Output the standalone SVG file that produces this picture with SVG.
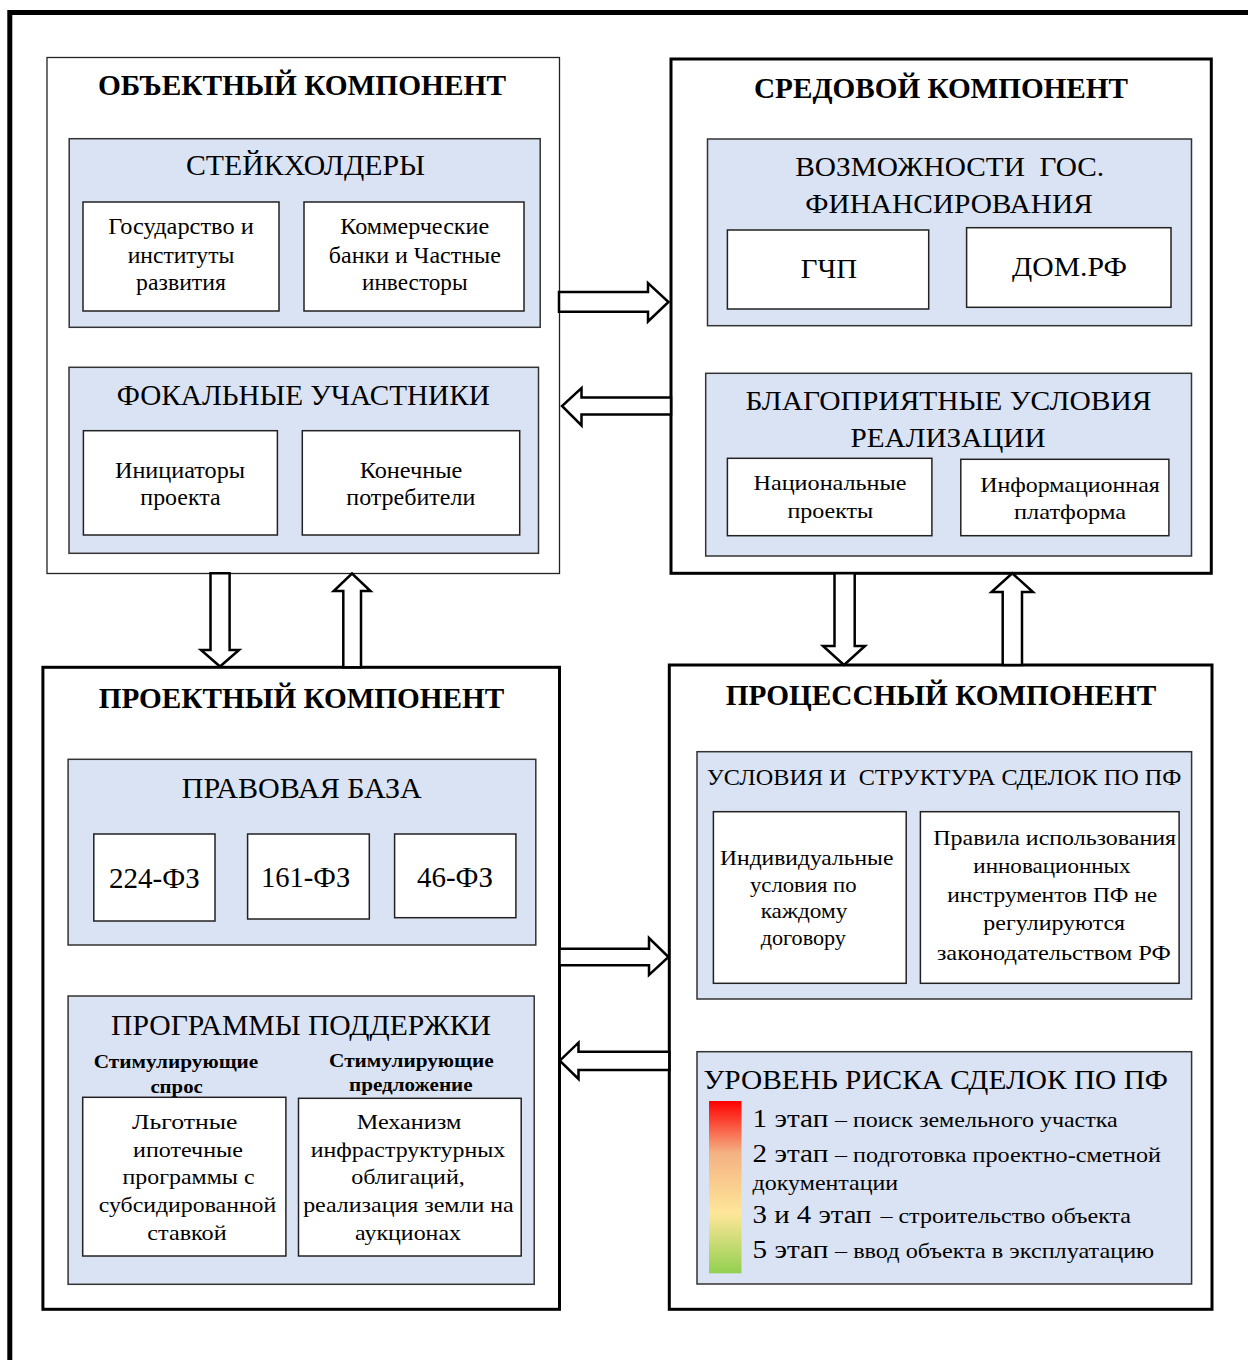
<svg xmlns="http://www.w3.org/2000/svg" width="1248" height="1360" viewBox="0 0 1248 1360">
<defs>
<style>
text{font-family:"Liberation Serif","Times New Roman",serif;fill:#000}
.frame{fill:none;stroke:#000;stroke-width:5}
.comp{fill:#fff;stroke:#000;stroke-width:3}
.compthin{fill:#fff;stroke:#222;stroke-width:1.3}
.grp{fill:#DAE3F3;stroke:#333;stroke-width:1.5}
.item{fill:#fff;stroke:#222;stroke-width:1.5}
.arrow{fill:#fff;stroke:#000;stroke-width:2.5;stroke-linejoin:miter}
.h1{font-size:30px;font-weight:bold;text-anchor:middle}
.h2{font-size:29px;text-anchor:middle}
.h2s{font-size:27.5px;text-anchor:middle}
.h3{font-size:23px;text-anchor:middle}
.b{font-size:22px;text-anchor:middle}
.bl{font-size:23.5px;text-anchor:middle}
.sb{font-size:18px;font-weight:bold;text-anchor:middle}
.rk{font-size:26px}
.rs{font-size:21px}
</style>
<linearGradient id="risk" x1="0" y1="0" x2="0" y2="1">
<stop offset="0" stop-color="#FF0000"/>
<stop offset="0.3" stop-color="#F4B183"/>
<stop offset="0.65" stop-color="#FFE699"/>
<stop offset="1" stop-color="#92D050"/>
</linearGradient>
</defs>
<rect width="1248" height="1360" fill="#fff"/>
<rect class="frame" x="9.8" y="12.5" width="1300" height="1400"/>

<g id="obj">
<rect class="compthin" x="47" y="57.5" width="512.5" height="516"/>
<text class="h1" x="302" y="95" textLength="408" lengthAdjust="spacingAndGlyphs">ОБЪЕКТНЫЙ КОМПОНЕНТ</text>
<g id="stakeholders">
<rect class="grp" x="69.2" y="138.7" width="471" height="188.6"/>
<text class="h2" x="305.5" y="175" textLength="239" lengthAdjust="spacingAndGlyphs">СТЕЙКХОЛДЕРЫ</text>
</g>
<g id="state">
<rect class="item" x="83" y="202" width="196" height="109"/>
<text class="bl" x="181" y="234.3" textLength="145.5" lengthAdjust="spacingAndGlyphs">Государство и</text>
<text class="bl" x="181" y="263" textLength="106.7" lengthAdjust="spacingAndGlyphs">институты</text>
<text class="bl" x="181" y="290" textLength="89.8" lengthAdjust="spacingAndGlyphs">развития</text>
</g>
<g id="banks">
<rect class="item" x="304" y="202" width="220" height="109"/>
<text class="bl" x="414.8" y="234" textLength="149" lengthAdjust="spacingAndGlyphs">Коммерческие</text>
<text class="bl" x="414.8" y="263" textLength="172" lengthAdjust="spacingAndGlyphs">банки и Частные</text>
<text class="bl" x="414.8" y="290" textLength="105.6" lengthAdjust="spacingAndGlyphs">инвесторы</text>
</g>
<g id="focal">
<rect class="grp" x="69" y="367.3" width="469.5" height="186"/>
<text class="h2" x="303.3" y="405" textLength="373" lengthAdjust="spacingAndGlyphs">ФОКАЛЬНЫЕ УЧАСТНИКИ</text>
</g>
<g id="initiators">
<rect class="item" x="83.4" y="430.7" width="194" height="104.3"/>
<text class="bl" x="180" y="478.3" textLength="130.2" lengthAdjust="spacingAndGlyphs">Инициаторы</text>
<text class="bl" x="180.5" y="505" textLength="80.3" lengthAdjust="spacingAndGlyphs">проекта</text>
</g>
<g id="consumers">
<rect class="item" x="302.3" y="430.7" width="217.4" height="104.3"/>
<text class="bl" x="411" y="478" textLength="102.6" lengthAdjust="spacingAndGlyphs">Конечные</text>
<text class="bl" x="410.8" y="505" textLength="129" lengthAdjust="spacingAndGlyphs">потребители</text>
</g>
</g>

<g id="env">
<rect class="comp" x="671" y="59" width="540.3" height="514.3"/>
<text class="h1" x="941" y="98.3" textLength="374" lengthAdjust="spacingAndGlyphs">СРЕДОВОЙ КОМПОНЕНТ</text>
<g id="gosfin">
<rect class="grp" x="707.5" y="139" width="484" height="186.7"/>
<text class="h2s" x="949.7" y="176" xml:space="preserve" textLength="309" lengthAdjust="spacingAndGlyphs">ВОЗМОЖНОСТИ  ГОС.</text>
<text class="h2s" x="949" y="213.3" textLength="287.5" lengthAdjust="spacingAndGlyphs">ФИНАНСИРОВАНИЯ</text>
</g>
<g id="gchp">
<rect class="item" x="727.4" y="230" width="201.3" height="79"/>
<text class="h2s" x="829" y="278.3" textLength="56.4" lengthAdjust="spacingAndGlyphs">ГЧП</text>
</g>
<g id="domrf">
<rect class="item" x="966.6" y="227.7" width="204.4" height="79.6"/>
<text class="h2s" x="1069.5" y="275.5" textLength="115" lengthAdjust="spacingAndGlyphs">ДОМ.РФ</text>
</g>
<g id="favorable">
<rect class="grp" x="705.7" y="373.3" width="485.8" height="182.7"/>
<text class="h2s" x="948.5" y="410" textLength="406" lengthAdjust="spacingAndGlyphs">БЛАГОПРИЯТНЫЕ УСЛОВИЯ</text>
<text class="h2s" x="948" y="446.7" textLength="195" lengthAdjust="spacingAndGlyphs">РЕАЛИЗАЦИИ</text>
</g>
<g id="natproj">
<rect class="item" x="727.4" y="458.3" width="204.5" height="77.4"/>
<text class="b" x="830" y="490" textLength="153" lengthAdjust="spacingAndGlyphs">Национальные</text>
<text class="b" x="830.3" y="518.3" textLength="85.8" lengthAdjust="spacingAndGlyphs">проекты</text>
</g>
<g id="infoplat">
<rect class="item" x="960.8" y="459.3" width="208.1" height="76.4"/>
<text class="b" x="1070" y="491.7" textLength="179.7" lengthAdjust="spacingAndGlyphs">Информационная</text>
<text class="b" x="1070" y="519.3" textLength="112" lengthAdjust="spacingAndGlyphs">платформа</text>
</g>
</g>

<g id="proj">
<rect class="comp" x="42.9" y="667.3" width="516.6" height="642"/>
<text class="h1" x="301.5" y="707.7" textLength="405.7" lengthAdjust="spacingAndGlyphs">ПРОЕКТНЫЙ КОМПОНЕНТ</text>
<g id="legal">
<rect class="grp" x="68.1" y="759.3" width="467.7" height="185.7"/>
<text class="h2" x="301.8" y="798.3" textLength="240" lengthAdjust="spacingAndGlyphs">ПРАВОВАЯ БАЗА</text>
</g>
<g id="fz224">
<rect class="item" x="93.8" y="834" width="121.2" height="87"/>
<text class="h2" x="154.4" y="887.7" textLength="90.8" lengthAdjust="spacingAndGlyphs">224-ФЗ</text>
</g>
<g id="fz161">
<rect class="item" x="247.6" y="834" width="121.7" height="85"/>
<text class="h2" x="305.6" y="886.7" textLength="89.2" lengthAdjust="spacingAndGlyphs">161-ФЗ</text>
</g>
<g id="fz46">
<rect class="item" x="394.6" y="834" width="121.3" height="83.7"/>
<text class="h2" x="455" y="886.7" textLength="76" lengthAdjust="spacingAndGlyphs">46-ФЗ</text>
</g>
<g id="support">
<rect class="grp" x="68.1" y="996" width="466.1" height="288.3"/>
<text class="h2" x="301" y="1035" textLength="380" lengthAdjust="spacingAndGlyphs">ПРОГРАММЫ ПОДДЕРЖКИ</text>
<text class="sb" x="176" y="1068.3" textLength="164.5" lengthAdjust="spacingAndGlyphs">Стимулирующие</text>
<text class="sb" x="176.6" y="1093.3" textLength="52.4" lengthAdjust="spacingAndGlyphs">спрос</text>
<text class="sb" x="411.4" y="1066.7" textLength="164.7" lengthAdjust="spacingAndGlyphs">Стимулирующие</text>
<text class="sb" x="410.8" y="1091" textLength="123.6" lengthAdjust="spacingAndGlyphs">предложение</text>
</g>
<g id="mortgage">
<rect class="item" x="82.7" y="1097.3" width="203.2" height="158.7"/>
<text class="b" x="184.7" y="1129.3" textLength="105.3" lengthAdjust="spacingAndGlyphs">Льготные</text>
<text class="b" x="188" y="1156.7" textLength="109.8" lengthAdjust="spacingAndGlyphs">ипотечные</text>
<text class="b" x="188.5" y="1184.3" textLength="132" lengthAdjust="spacingAndGlyphs">программы с</text>
<text class="b" x="187.5" y="1211.7" textLength="177.6" lengthAdjust="spacingAndGlyphs">субсидированной</text>
<text class="b" x="187" y="1240" textLength="79.3" lengthAdjust="spacingAndGlyphs">ставкой</text>
</g>
<g id="bonds">
<rect class="item" x="298.5" y="1098.3" width="222.7" height="157.7"/>
<text class="b" x="409" y="1129.3" textLength="104.5" lengthAdjust="spacingAndGlyphs">Механизм</text>
<text class="b" x="408" y="1156.7" textLength="194.4" lengthAdjust="spacingAndGlyphs">инфраструктурных</text>
<text class="b" x="408" y="1184.3" textLength="113.7" lengthAdjust="spacingAndGlyphs">облигаций,</text>
<text class="b" x="408.4" y="1211.7" textLength="210.5" lengthAdjust="spacingAndGlyphs">реализация земли на</text>
<text class="b" x="408" y="1240" textLength="106" lengthAdjust="spacingAndGlyphs">аукционах</text>
</g>
</g>

<g id="proc">
<rect class="comp" x="669.3" y="665" width="542.7" height="644.3"/>
<text class="h1" x="941" y="705" textLength="430.5" lengthAdjust="spacingAndGlyphs">ПРОЦЕССНЫЙ КОМПОНЕНТ</text>
<g id="terms">
<rect class="grp" x="697" y="751.7" width="494.6" height="247.3"/>
<text class="h3" x="944" y="785" xml:space="preserve" textLength="474.6" lengthAdjust="spacingAndGlyphs">УСЛОВИЯ И  СТРУКТУРА СДЕЛОК ПО ПФ</text>
</g>
<g id="individual">
<rect class="item" x="713.4" y="811.7" width="192.8" height="171.6"/>
<text class="b" x="806.7" y="865" textLength="173.3" lengthAdjust="spacingAndGlyphs">Индивидуальные</text>
<text class="b" x="803.3" y="891.7" textLength="106.7" lengthAdjust="spacingAndGlyphs">условия по</text>
<text class="b" x="804" y="918.3" textLength="86.7" lengthAdjust="spacingAndGlyphs">каждому</text>
<text class="b" x="803.3" y="945" textLength="85.3" lengthAdjust="spacingAndGlyphs">договору</text>
</g>
<g id="rules">
<rect class="item" x="920.4" y="811.7" width="258.7" height="171.6"/>
<text class="b" x="1054.7" y="845" textLength="242.7" lengthAdjust="spacingAndGlyphs">Правила использования</text>
<text class="b" x="1052" y="872.5" textLength="157.3" lengthAdjust="spacingAndGlyphs">инновационных</text>
<text class="b" x="1052.3" y="902.3" textLength="210" lengthAdjust="spacingAndGlyphs">инструментов ПФ не</text>
<text class="b" x="1054.2" y="930" textLength="141.7" lengthAdjust="spacingAndGlyphs">регулируются</text>
<text class="b" x="1053.7" y="960" textLength="234" lengthAdjust="spacingAndGlyphs">законодательством РФ</text>
</g>
<g id="risk-level">
<rect class="grp" x="697" y="1051.7" width="494.6" height="232.3"/>
<text x="703.6" y="1089.3" font-size="28" textLength="464.4" lengthAdjust="spacingAndGlyphs">УРОВЕНЬ РИСКА СДЕЛОК ПО ПФ</text>
<rect x="709" y="1101" width="32.5" height="172.3" fill="url(#risk)"/>
<text class="rk" x="752.6" y="1126.7" textLength="75.7" lengthAdjust="spacingAndGlyphs">1 этап</text>
<text class="rs" x="835" y="1126.7" textLength="282.7" lengthAdjust="spacingAndGlyphs">– поиск земельного участка</text>
<text class="rk" x="752.6" y="1161.7" textLength="75.7" lengthAdjust="spacingAndGlyphs">2 этап</text>
<text class="rs" x="835" y="1161.7" textLength="325.9" lengthAdjust="spacingAndGlyphs">– подготовка проектно-сметной</text>
<text class="rs" x="752.6" y="1190" textLength="145.6" lengthAdjust="spacingAndGlyphs">документации</text>
<text class="rk" x="752.6" y="1223" textLength="118.9" lengthAdjust="spacingAndGlyphs">3 и 4 этап</text>
<text class="rs" x="880.4" y="1223" textLength="250.6" lengthAdjust="spacingAndGlyphs">– строительство объекта</text>
<text class="rk" x="752.6" y="1258" textLength="75.7" lengthAdjust="spacingAndGlyphs">5 этап</text>
<text class="rs" x="835" y="1258" textLength="319.2" lengthAdjust="spacingAndGlyphs">– ввод объекта в эксплуатацию</text>
</g>
</g>

<g id="connectors">
<polygon class="arrow" points="559,292 648,292 648,283 668.5,302 648,321.5 648,311.7 559,311.7"/>
<polygon class="arrow" points="671,397.5 581.5,397.5 581.5,388 562,406 581.5,425.5 581.5,414.5 671,414.5"/>
<polygon class="arrow" points="210.5,573.3 229.6,573.3 229.6,650 239,650 220,666.5 201,650 210.5,650"/>
<polygon class="arrow" points="343.3,667.3 361,667.3 361,591 370.5,591 352,573.5 333.7,591 343.3,591"/>
<polygon class="arrow" points="834.5,573.3 854.7,573.3 854.7,646 865,646 844,665 823,646 834.5,646"/>
<polygon class="arrow" points="1002.7,665 1022,665 1022,592 1033,592 1012.3,573.3 991.5,592 1002.7,592"/>
<polygon class="arrow" points="559.5,948.8 649,948.8 649,938 668.5,957 649,975 649,965.2 559.5,965.2"/>
<polygon class="arrow" points="669.3,1051.7 578.5,1051.7 578.5,1042.7 559.8,1060.7 578.5,1079 578.5,1070 669.3,1070"/>
</g>
</svg>
